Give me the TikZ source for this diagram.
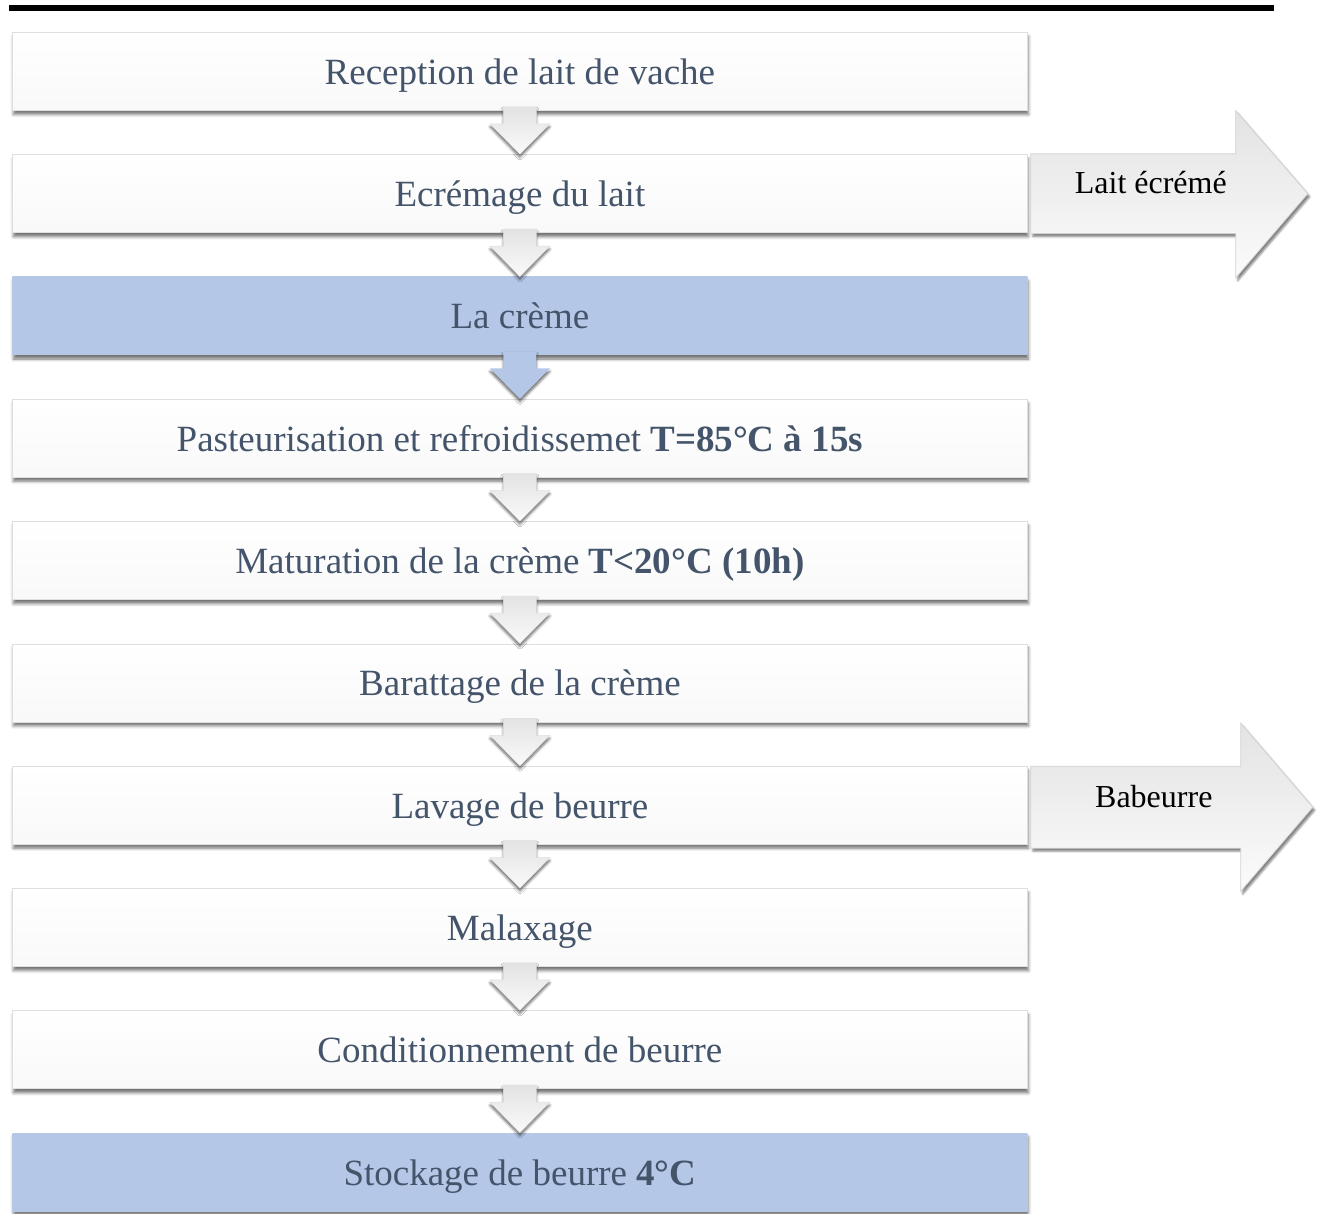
\documentclass[tikz,border=0pt]{standalone}
\usepackage{fontspec}
\setmainfont{Liberation Serif}
\usetikzlibrary{calc,shadows.blur}
\definecolor{txt}{HTML}{44546A}
\definecolor{bluebox}{HTML}{B4C7E7}
\tikzset{
  boxshadow/.style={blur shadow={shadow xshift=1pt, shadow yshift=-4pt, shadow blur radius=3pt, shadow opacity=55}},
  stepbox/.style={rectangle, anchor=north west, minimum width=1015pt, minimum height=78pt,
    inner sep=0pt, draw=gray!25, line width=0.8pt, top color=white, bottom color=gray!5,
    text=txt, font=\fontsize{37}{44}\selectfont, text height=30pt, text depth=4pt, boxshadow},
  bluestep/.style={stepbox, draw=none, top color=bluebox, bottom color=bluebox},
  dnarrow/.style={top color=gray!22, bottom color=gray!4, draw=gray!25, line width=0.5pt,
    blur shadow={shadow xshift=0pt, shadow yshift=-3pt, shadow blur radius=2.5pt, shadow opacity=60}},
  bluearrow/.style={dnarrow, top color=bluebox, bottom color=bluebox, draw=none},
  sidearrow/.style={top color=gray!22, bottom color=gray!3, draw=gray!35, line width=0.8pt,
    blur shadow={shadow xshift=2pt, shadow yshift=-3pt, shadow blur radius=2pt, shadow opacity=50}},
  sidelabel/.style={anchor=base, inner sep=0pt, text=black, font=\fontsize{32}{38}\selectfont},
}
\newcommand{\dnarr}[3]{%
  \path[#1] ($(#2.south)+(-16.5,-4)$) -- ($(#2.south)+(-16.5,13)$) -- ($(#2.south)+(-30,13)$)
    -- (#3.north) -- ($(#2.south)+(30,13)$) -- ($(#2.south)+(16.5,13)$)
    -- ($(#2.south)+(16.5,-4)$) -- cycle;}
\begin{document}
\begin{tikzpicture}[x=1pt,y=-1pt]
\useasboundingbox (0,0) rectangle (1320,1214);
\fill[black] (9,5) rectangle (1274,11);

\node[stepbox]  (b1)  at (12,32)     {Reception de lait de vache};
\node[stepbox]  (b2)  at (12,154.3)  {Ecrémage du lait};
\node[bluestep] (b3)  at (12,276.6)  {La crème};
\node[stepbox]  (b4)  at (12,398.9)  {Pasteurisation et refroidissemet \textbf{T=85°C à 15s}};
\node[stepbox]  (b5)  at (12,521.2)  {Maturation de la crème \textbf{T<20°C (10h)}};
\node[stepbox]  (b6)  at (12,643.5)  {Barattage de la crème};
\node[stepbox]  (b7)  at (12,765.8)  {Lavage de beurre};
\node[stepbox]  (b8)  at (12,888.1)  {Malaxage};
\node[stepbox]  (b9)  at (12,1010.4) {Conditionnement de beurre};
\node[bluestep] (b10) at (12,1132.7) {Stockage de beurre \textbf{4°C}};

\dnarr{dnarrow}{b1}{b2}
\dnarr{dnarrow}{b2}{b3}
\dnarr{bluearrow}{b3}{b4}
\dnarr{dnarrow}{b4}{b5}
\dnarr{dnarrow}{b5}{b6}
\dnarr{dnarrow}{b6}{b7}
\dnarr{dnarrow}{b7}{b8}
\dnarr{dnarrow}{b8}{b9}
\dnarr{dnarrow}{b9}{b10}

% side arrow 1
\path[sidearrow] ($(b2.east)+(3,-40)$) -- ($(b2.east)+(208,-40)$) -- ($(b2.east)+(208,-83)$)
  -- ($(b2.east)+(280,0)$) -- ($(b2.east)+(208,84)$) -- ($(b2.east)+(208,40)$)
  -- ($(b2.east)+(3,40)$) -- cycle;
\node[sidelabel] (l1) at ($(b2.east)+(123,0)$) {Lait écrémé};

% side arrow 2
\path[sidearrow] ($(b7.east)+(3,-39)$) -- ($(b7.east)+(213,-39)$) -- ($(b7.east)+(213,-82)$)
  -- ($(b7.east)+(285,2)$) -- ($(b7.east)+(213,86)$) -- ($(b7.east)+(213,43)$)
  -- ($(b7.east)+(3,43)$) -- cycle;
\node[sidelabel] (l2) at ($(b7.east)+(126,2)$) {Babeurre};
\end{tikzpicture}
\end{document}
